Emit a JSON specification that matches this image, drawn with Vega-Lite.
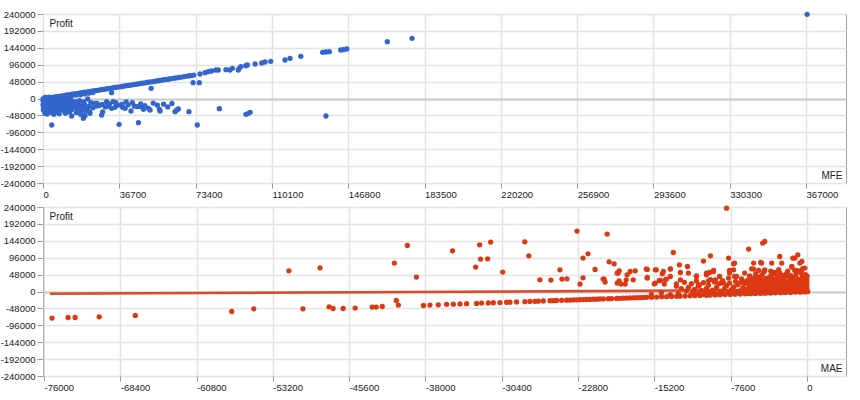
{
  "$schema": "https://vega.github.io/schema/vega-lite/v6.json",
  "background": "white",
  "padding": {"left": -1, "top": 8, "right": 14, "bottom": 0},
  "spacing": 24,
  "bounds": "flush",
  "config": {
    "view": {"stroke": "#a0a0a0", "strokeWidth": 1},
    "font": "Liberation Sans",
    "axis": {
      "labelFont": "Liberation Sans", "labelFontSize": 9.5, "labelColor": "#222222",
      "titleFont": "Liberation Sans", "titleFontSize": 10, "titleFontWeight": "normal", "titleColor": "#222222",
      "gridColor": "#e3e3e3", "gridWidth": 1.5, "tickColor": "#999999", "domain": false,
      "labelOverlap": false, "labelFlush": false
    }
  },
  "datasets": {
    "mfe": [
      {"MFE":0,"Profit":-1000},{"MFE":900,"Profit":-200},{"MFE":2000,"Profit":900},{"MFE":3100,"Profit":1800},{"MFE":4000,"Profit":2600},{"MFE":5000,"Profit":3700},{"MFE":6100,"Profit":4500},{"MFE":7000,"Profit":5600},{"MFE":8000,"Profit":6300},{"MFE":9000,"Profit":7500},{"MFE":10100,"Profit":8200},{"MFE":11000,"Profit":9300},{"MFE":12000,"Profit":10100},{"MFE":13100,"Profit":11000},{"MFE":14000,"Profit":12100},{"MFE":15000,"Profit":12900},{"MFE":16000,"Profit":13900},{"MFE":17100,"Profit":14700},{"MFE":18000,"Profit":15800},{"MFE":19000,"Profit":16600},{"MFE":20000,"Profit":17700},{"MFE":21100,"Profit":18400},{"MFE":22000,"Profit":19500},{"MFE":23000,"Profit":20300},{"MFE":24000,"Profit":21400},{"MFE":25100,"Profit":22100},{"MFE":26000,"Profit":23300},{"MFE":27000,"Profit":24000},{"MFE":28000,"Profit":25100},{"MFE":29100,"Profit":25900},{"MFE":30000,"Profit":26900},{"MFE":31000,"Profit":27900},{"MFE":32000,"Profit":28700},{"MFE":33100,"Profit":29600},{"MFE":34000,"Profit":30700},{"MFE":35000,"Profit":31500},{"MFE":36000,"Profit":32500},{"MFE":37100,"Profit":33300},{"MFE":38000,"Profit":34400},{"MFE":39000,"Profit":35200},{"MFE":40000,"Profit":36300},{"MFE":41100,"Profit":37000},{"MFE":42000,"Profit":38100},{"MFE":43000,"Profit":38900},{"MFE":44000,"Profit":40000},{"MFE":45100,"Profit":40800},{"MFE":46000,"Profit":41800},{"MFE":47000,"Profit":42700},{"MFE":48000,"Profit":43700},{"MFE":49100,"Profit":44500},{"MFE":50000,"Profit":45600},{"MFE":51000,"Profit":46400},{"MFE":52000,"Profit":47400},{"MFE":53100,"Profit":48200},{"MFE":54000,"Profit":49300},{"MFE":55000,"Profit":50100},{"MFE":56000,"Profit":51100},{"MFE":57200,"Profit":52000},{"MFE":58000,"Profit":53000},{"MFE":59000,"Profit":53800},{"MFE":60200,"Profit":55000},{"MFE":61000,"Profit":55700},{"MFE":62300,"Profit":56900},{"MFE":63500,"Profit":58000},{"MFE":64200,"Profit":58600},{"MFE":65400,"Profit":59700},{"MFE":66800,"Profit":61000},{"MFE":68000,"Profit":62300},{"MFE":69500,"Profit":63700},{"MFE":70400,"Profit":64600},{"MFE":71300,"Profit":65200},{"MFE":72500,"Profit":66600},
      {"MFE":75500,"Profit":69600},{"MFE":77900,"Profit":73300},{"MFE":79500,"Profit":76200},{"MFE":81100,"Profit":78100},{"MFE":83200,"Profit":80900},{"MFE":84300,"Profit":80900},{"MFE":88000,"Profit":81800},{"MFE":89900,"Profit":80900},{"MFE":91100,"Profit":85700},{"MFE":93900,"Profit":80900},{"MFE":94400,"Profit":85700},{"MFE":95100,"Profit":90400},{"MFE":97500,"Profit":93200},{"MFE":98300,"Profit":95100},{"MFE":102000,"Profit":98000},{"MFE":105200,"Profit":100800},{"MFE":106800,"Profit":103700},{"MFE":109500,"Profit":105600},{"MFE":116400,"Profit":109300},{"MFE":118800,"Profit":114100},{"MFE":124000,"Profit":119800},{"MFE":134500,"Profit":131200},{"MFE":136100,"Profit":132100},{"MFE":137700,"Profit":133000},{"MFE":143200,"Profit":137700},{"MFE":144500,"Profit":138600},{"MFE":146100,"Profit":140600},{"MFE":165600,"Profit":161400},{"MFE":177500,"Profit":171000},{"MFE":367500,"Profit":239000},
      {"MFE":4200,"Profit":-75300},{"MFE":13800,"Profit":-49700},{"MFE":18100,"Profit":-45000},{"MFE":19400,"Profit":-56300},{"MFE":20200,"Profit":-48800},{"MFE":21500,"Profit":-1400},{"MFE":22600,"Profit":-42000},{"MFE":25000,"Profit":-13700},{"MFE":25800,"Profit":-21300},{"MFE":28200,"Profit":-46900},{"MFE":28700,"Profit":-38300},{"MFE":30600,"Profit":-9000},{"MFE":31400,"Profit":-21300},{"MFE":33800,"Profit":-9000},{"MFE":34600,"Profit":-25000},{"MFE":36600,"Profit":-73300},{"MFE":38300,"Profit":-25000},{"MFE":42300,"Profit":-35500},{"MFE":45500,"Profit":-23300},{"MFE":45900,"Profit":-68700},{"MFE":46700,"Profit":-21300},{"MFE":47500,"Profit":-23300},{"MFE":48300,"Profit":-30700},{"MFE":50700,"Profit":-27800},{"MFE":51500,"Profit":-32700},{"MFE":52000,"Profit":29000},{"MFE":56000,"Profit":-30700},{"MFE":56300,"Profit":-35500},{"MFE":63500,"Profit":-37500},{"MFE":64300,"Profit":-32700},{"MFE":65100,"Profit":-29800},{"MFE":70200,"Profit":-37500},{"MFE":72200,"Profit":44900},{"MFE":75200,"Profit":44900},{"MFE":74200,"Profit":-75300},{"MFE":84800,"Profit":-28900},{"MFE":97600,"Profit":-45000},{"MFE":98800,"Profit":-42000},{"MFE":99600,"Profit":-39300},{"MFE":136100,"Profit":-49700},{"MFE":33000,"Profit":16500},
      {"MFE":0,"Profit":-18000},{"MFE":0,"Profit":-6000},{"MFE":200,"Profit":-33000},{"MFE":300,"Profit":-25000},{"MFE":400,"Profit":-12000},{"MFE":500,"Profit":-2000},{"MFE":600,"Profit":-30000},{"MFE":800,"Profit":-8000},{"MFE":900,"Profit":-36000},{"MFE":1000,"Profit":-42000},{"MFE":1000,"Profit":3000},{"MFE":1200,"Profit":-15000},{"MFE":1400,"Profit":-10000},{"MFE":1500,"Profit":-22000},{"MFE":1800,"Profit":-5000},{"MFE":2000,"Profit":-44000},{"MFE":2000,"Profit":1000},{"MFE":2200,"Profit":-12000},{"MFE":2500,"Profit":-28000},{"MFE":2600,"Profit":-16000},{"MFE":2800,"Profit":-39000},{"MFE":3000,"Profit":-18000},{"MFE":3000,"Profit":4000},{"MFE":3200,"Profit":-34000},{"MFE":3500,"Profit":-9000},{"MFE":3800,"Profit":-20000},{"MFE":4000,"Profit":-25000},{"MFE":4200,"Profit":-40000},{"MFE":4500,"Profit":-33000},{"MFE":4800,"Profit":-14000},{"MFE":5000,"Profit":-3000},{"MFE":5200,"Profit":-45000},{"MFE":5500,"Profit":-20000},{"MFE":5800,"Profit":-12000},{"MFE":6000,"Profit":-31000},{"MFE":6200,"Profit":-10000},{"MFE":6500,"Profit":-4000},{"MFE":6800,"Profit":-27000},{"MFE":7000,"Profit":-38000},{"MFE":7500,"Profit":-16000},{"MFE":7800,"Profit":-43000},{"MFE":8000,"Profit":-6000},{"MFE":8300,"Profit":-22000},{"MFE":8800,"Profit":-18000},{"MFE":9000,"Profit":-30000},{"MFE":9000,"Profit":-2000},{"MFE":9500,"Profit":-12000},{"MFE":10000,"Profit":-35000},{"MFE":10500,"Profit":-19000},{"MFE":10800,"Profit":-42000},{"MFE":11000,"Profit":-26000},{"MFE":11000,"Profit":-1000},{"MFE":11500,"Profit":-8000},{"MFE":12000,"Profit":-33000},{"MFE":12500,"Profit":-15000},{"MFE":12800,"Profit":-38000},{"MFE":13000,"Profit":-22000},{"MFE":13500,"Profit":-5000},{"MFE":14000,"Profit":-28000},{"MFE":14500,"Profit":-11000},{"MFE":15000,"Profit":-18000},{"MFE":15500,"Profit":-9000},{"MFE":16000,"Profit":-25000},{"MFE":16000,"Profit":-40000},{"MFE":16500,"Profit":-32000},{"MFE":17000,"Profit":-14000},{"MFE":17500,"Profit":-6000},{"MFE":18000,"Profit":-21000},{"MFE":18500,"Profit":-36000},{"MFE":19000,"Profit":-27000},{"MFE":19500,"Profit":-10000},{"MFE":20000,"Profit":-17000},{"MFE":20500,"Profit":-35000},{"MFE":21000,"Profit":-30000},{"MFE":22000,"Profit":-23000},{"MFE":22500,"Profit":-38000},{"MFE":23000,"Profit":-12000},{"MFE":24000,"Profit":-26000},{"MFE":26000,"Profit":-14000},{"MFE":27000,"Profit":-20000},{"MFE":28500,"Profit":-17000},{"MFE":30000,"Profit":-24000},{"MFE":32000,"Profit":-15000},{"MFE":33000,"Profit":-28000},{"MFE":35000,"Profit":-12000},{"MFE":36000,"Profit":-19000},{"MFE":38000,"Profit":-16000},{"MFE":39500,"Profit":-28000},{"MFE":40000,"Profit":-10000},{"MFE":41000,"Profit":-18000},{"MFE":43000,"Profit":-12000},{"MFE":44000,"Profit":-22000},{"MFE":47000,"Profit":-15000},{"MFE":49000,"Profit":-20000},{"MFE":53000,"Profit":-13000},{"MFE":55000,"Profit":-19000},{"MFE":58000,"Profit":-16000},{"MFE":60000,"Profit":-24000},{"MFE":62000,"Profit":-14000},
      {"MFE":2000,"Profit":-3000},{"MFE":4000,"Profit":-1000},{"MFE":6000,"Profit":1000},{"MFE":8000,"Profit":2000},{"MFE":10000,"Profit":4000},{"MFE":12000,"Profit":6000},{"MFE":14000,"Profit":8000},{"MFE":16000,"Profit":10000},{"MFE":18000,"Profit":11000},{"MFE":20000,"Profit":13000},{"MFE":22000,"Profit":15000},{"MFE":24000,"Profit":17000},{"MFE":500,"Profit":-9000},{"MFE":1500,"Profit":-4000},{"MFE":3000,"Profit":-7000},{"MFE":5000,"Profit":-9000},{"MFE":7000,"Profit":-5000},
      {"MFE":300,"Profit":-4000},{"MFE":700,"Profit":-14000},{"MFE":1100,"Profit":-20000},{"MFE":1300,"Profit":-27000},{"MFE":1700,"Profit":-32000},{"MFE":1900,"Profit":-17000},{"MFE":2300,"Profit":-7000},{"MFE":2700,"Profit":-23000},{"MFE":3300,"Profit":-13000},{"MFE":3600,"Profit":-29000},{"MFE":3900,"Profit":-4000},{"MFE":4300,"Profit":-17000},{"MFE":4600,"Profit":-8000},{"MFE":5100,"Profit":-24000},{"MFE":5400,"Profit":-35000},{"MFE":5700,"Profit":-6000},{"MFE":6300,"Profit":-19000},{"MFE":6600,"Profit":-13000},{"MFE":7200,"Profit":-24000},{"MFE":7600,"Profit":-10000},{"MFE":8200,"Profit":-29000},{"MFE":8600,"Profit":-14000},{"MFE":9200,"Profit":-24000},{"MFE":9800,"Profit":-7000},{"MFE":10200,"Profit":-15000},{"MFE":10600,"Profit":-28000},{"MFE":11300,"Profit":-20000},{"MFE":11800,"Profit":-13000},{"MFE":12300,"Profit":-25000},{"MFE":13200,"Profit":-17000},{"MFE":13800,"Profit":-31000},{"MFE":14800,"Profit":-23000},{"MFE":15800,"Profit":-15000},{"MFE":16800,"Profit":-20000}
    ],
    "mae": [
      {"MAE":-75200,"Profit":-75600},{"MAE":-73600,"Profit":-73800},{"MAE":-72900,"Profit":-73800},{"MAE":-70500,"Profit":-71900},{"MAE":-66900,"Profit":-68100},{"MAE":-57300,"Profit":-56800},{"MAE":-55100,"Profit":-49100},{"MAE":-51600,"Profit":58800},{"MAE":-50200,"Profit":-49100},{"MAE":-48500,"Profit":67300},{"MAE":-47600,"Profit":-43500},{"MAE":-47200,"Profit":-48300},{"MAE":-46200,"Profit":-48300},{"MAE":-45000,"Profit":-47200},{"MAE":-43300,"Profit":-44300},{"MAE":-42900,"Profit":-44300},{"MAE":-42300,"Profit":-42600},{"MAE":-41100,"Profit":80600},{"MAE":-40900,"Profit":-25600},{"MAE":-40700,"Profit":-38600},{"MAE":-39800,"Profit":130600},{"MAE":-38900,"Profit":40900},{"MAE":-38200,"Profit":-39800},
      {"MAE":-35300,"Profit":115600},{"MAE":-33000,"Profit":69300},{"MAE":-32600,"Profit":132600},{"MAE":-32500,"Profit":92000},{"MAE":-31800,"Profit":92900},{"MAE":-31500,"Profit":140300},{"MAE":-30300,"Profit":55100},{"MAE":-28100,"Profit":141100},{"MAE":-27700,"Profit":101400},{"MAE":-26600,"Profit":33200},{"MAE":-25500,"Profit":32400},{"MAE":-24600,"Profit":61600},{"MAE":-24400,"Profit":35200},{"MAE":-23900,"Profit":36100},{"MAE":-22900,"Profit":171500},{"MAE":-22600,"Profit":21000},{"MAE":-22300,"Profit":94900},{"MAE":-22300,"Profit":38900},{"MAE":-21800,"Profit":107100},{"MAE":-21100,"Profit":62500},{"MAE":-20300,"Profit":35200},{"MAE":-20100,"Profit":26700},{"MAE":-19900,"Profit":163000},{"MAE":-19700,"Profit":84300},{"MAE":-19200,"Profit":78700},{"MAE":-18900,"Profit":52300},{"MAE":-18700,"Profit":58800},{"MAE":-18700,"Profit":30400},{"MAE":-18100,"Profit":21000},{"MAE":-17900,"Profit":47400},{"MAE":-17600,"Profit":56800},{"MAE":-17300,"Profit":33200},{"MAE":-17100,"Profit":58800},{"MAE":-15900,"Profit":62500},{"MAE":-15900,"Profit":39800},{"MAE":-15200,"Profit":21900},{"MAE":-15000,"Profit":61600},{"MAE":-14700,"Profit":31200},{"MAE":-14400,"Profit":50300},{"MAE":-14200,"Profit":21000},{"MAE":-14000,"Profit":35200},{"MAE":-13600,"Profit":64500},{"MAE":-13300,"Profit":110800},{"MAE":-13000,"Profit":21900},{"MAE":-12700,"Profit":75800},{"MAE":-12600,"Profit":54000},{"MAE":-12600,"Profit":33200},{"MAE":-11900,"Profit":71000},{"MAE":-11800,"Profit":52300},{"MAE":-11000,"Profit":44600},{"MAE":-10700,"Profit":19000},{"MAE":-10300,"Profit":86300},{"MAE":-10000,"Profit":47400},{"MAE":-9700,"Profit":54000},{"MAE":-9600,"Profit":101400},{"MAE":-9300,"Profit":59600},{"MAE":-9100,"Profit":33200},{"MAE":-8600,"Profit":23900},{"MAE":-8000,"Profit":236800},{"MAE":-7800,"Profit":94900},{"MAE":-7700,"Profit":59600},{"MAE":-7300,"Profit":78700},{"MAE":-7200,"Profit":42600},{"MAE":-6500,"Profit":28400},{"MAE":-6200,"Profit":52300},{"MAE":-5800,"Profit":120400},{"MAE":-5500,"Profit":64500},{"MAE":-5300,"Profit":80600},{"MAE":-5100,"Profit":35200},{"MAE":-4600,"Profit":82400},{"MAE":-4400,"Profit":137400},{"MAE":-4200,"Profit":142000},{"MAE":-4200,"Profit":59600},{"MAE":-3500,"Profit":80600},{"MAE":-3200,"Profit":50300},{"MAE":-2700,"Profit":99400},{"MAE":-2500,"Profit":80600},{"MAE":-2000,"Profit":44600},{"MAE":-1500,"Profit":69300},{"MAE":-1200,"Profit":94900},{"MAE":-900,"Profit":104200},{"MAE":-500,"Profit":85200},{"MAE":-1000,"Profit":59600},{"MAE":-200,"Profit":66500},{"MAE":0,"Profit":42600},
      {"MAE":-20200,"Profit":35200},{"MAE":-18800,"Profit":52300},{"MAE":-18900,"Profit":23900},{"MAE":-18500,"Profit":21000},{"MAE":-18000,"Profit":33200},{"MAE":-16000,"Profit":63600},{"MAE":-15900,"Profit":38000},{"MAE":-15100,"Profit":61600},{"MAE":-15100,"Profit":23900},{"MAE":-14600,"Profit":31200},{"MAE":-14300,"Profit":56800},{"MAE":-14100,"Profit":33200},{"MAE":-13600,"Profit":63600},{"MAE":-13600,"Profit":42600},{"MAE":-11000,"Profit":42600},{"MAE":-10800,"Profit":19000},{"MAE":-10000,"Profit":52300},{"MAE":-9800,"Profit":30400},{"MAE":-9300,"Profit":56800},{"MAE":-9200,"Profit":31200},{"MAE":-8700,"Profit":42600},{"MAE":-8300,"Profit":23900},{"MAE":-7700,"Profit":52300},{"MAE":-7300,"Profit":61600},{"MAE":-7200,"Profit":80600},{"MAE":-7000,"Profit":42600},{"MAE":-6700,"Profit":23900},{"MAE":-5300,"Profit":63600},{"MAE":-5000,"Profit":42600},{"MAE":-4500,"Profit":80600},{"MAE":-4200,"Profit":61600},{"MAE":-3400,"Profit":52300},{"MAE":-2000,"Profit":52300},{"MAE":-1500,"Profit":71000},{"MAE":-1400,"Profit":94900},{"MAE":-700,"Profit":80600},{"MAE":-500,"Profit":61600},{"MAE":-400,"Profit":42600},
      {"MAE":-37550,"Profit":-38600},{"MAE":-36720,"Profit":-37800},{"MAE":-35890,"Profit":-36500},{"MAE":-35220,"Profit":-36000},{"MAE":-34560,"Profit":-35400},{"MAE":-33900,"Profit":-34500},{"MAE":-32900,"Profit":-33800},{"MAE":-32400,"Profit":-33000},{"MAE":-31740,"Profit":-32600},{"MAE":-31240,"Profit":-31900},{"MAE":-30580,"Profit":-31400},{"MAE":-29910,"Profit":-30500},{"MAE":-29580,"Profit":-30400},{"MAE":-28920,"Profit":-29600},{"MAE":-28090,"Profit":-28900},{"MAE":-27590,"Profit":-28300},{"MAE":-27090,"Profit":-27900},{"MAE":-26760,"Profit":-27400},{"MAE":-26260,"Profit":-27000},{"MAE":-25590,"Profit":-26300},{"MAE":-25260,"Profit":-26100},{"MAE":-24930,"Profit":-25600},{"MAE":-24430,"Profit":-25200},{"MAE":-23930,"Profit":-24600},{"MAE":-23600,"Profit":-24400},{"MAE":-23270,"Profit":-23900},{"MAE":-22940,"Profit":-23700},{"MAE":-22600,"Profit":-23200},{"MAE":-22270,"Profit":-23000},{"MAE":-21940,"Profit":-22600},{"MAE":-21610,"Profit":-22400},{"MAE":-21280,"Profit":-21900},{"MAE":-20940,"Profit":-21700},{"MAE":-20610,"Profit":-21200},{"MAE":-20280,"Profit":-21000},{"MAE":-19780,"Profit":-20500},{"MAE":-19450,"Profit":-20100},{"MAE":-18950,"Profit":-19700},{"MAE":-18620,"Profit":-19300},{"MAE":-18290,"Profit":-18900},{"MAE":-17960,"Profit":-18700},{"MAE":-17630,"Profit":-18200},{"MAE":-17290,"Profit":-18000},{"MAE":-16960,"Profit":-17500},{"MAE":-16630,"Profit":-17400},{"MAE":-16300,"Profit":-16900},{"MAE":-15960,"Profit":-16600},{"MAE":-15470,"Profit":-16100},{"MAE":-14970,"Profit":-15700},{"MAE":-14470,"Profit":-15000},{"MAE":-13970,"Profit":-14700},{"MAE":-13470,"Profit":-14100},{"MAE":-12970,"Profit":-13700},{"MAE":-12630,"Profit":-13200},{"MAE":-12130,"Profit":-12800},{"MAE":-11640,"Profit":-12200},{"MAE":-11140,"Profit":-11800},{"MAE":-10640,"Profit":-11200},{"MAE":-9970,"Profit":-10600},{"MAE":-9640,"Profit":-10200},{"MAE":-9140,"Profit":-9800},{"MAE":-8640,"Profit":-9200},{"MAE":-8140,"Profit":-8700},{"MAE":-7640,"Profit":-8200},{"MAE":-7140,"Profit":-7700},{"MAE":-6640,"Profit":-7200},{"MAE":-6140,"Profit":-6700},{"MAE":-5640,"Profit":-6200},{"MAE":-5140,"Profit":-5700},{"MAE":-4640,"Profit":-5200},{"MAE":-4140,"Profit":-4700},{"MAE":-3640,"Profit":-4200},{"MAE":-3140,"Profit":-3700},{"MAE":-2640,"Profit":-3200},{"MAE":-2140,"Profit":-2700},{"MAE":-1640,"Profit":-2200},{"MAE":-1140,"Profit":-1700},{"MAE":-640,"Profit":-1200},{"MAE":-140,"Profit":-700},
      {"MAE":-12000,"Profit":2000},{"MAE":-11800,"Profit":12000},{"MAE":-11500,"Profit":22000},{"MAE":-11200,"Profit":6000},{"MAE":-11000,"Profit":30000},{"MAE":-10800,"Profit":15000},{"MAE":-10500,"Profit":3000},{"MAE":-10300,"Profit":25000},{"MAE":-10000,"Profit":9000},{"MAE":-9800,"Profit":18000},{"MAE":-9600,"Profit":34000},{"MAE":-9400,"Profit":4000},{"MAE":-9200,"Profit":27000},{"MAE":-9000,"Profit":12000},{"MAE":-8800,"Profit":21000},{"MAE":-8600,"Profit":1000},{"MAE":-8400,"Profit":31000},{"MAE":-8200,"Profit":8000},{"MAE":-8000,"Profit":16000},{"MAE":-7800,"Profit":38000},{"MAE":-7700,"Profit":24000},{"MAE":-7500,"Profit":5000},{"MAE":-7300,"Profit":13000},{"MAE":-7100,"Profit":29000},{"MAE":-6900,"Profit":19000},{"MAE":-6700,"Profit":2000},{"MAE":-6500,"Profit":36000},{"MAE":-6400,"Profit":10000},{"MAE":-6200,"Profit":22000},{"MAE":-6000,"Profit":30000},{"MAE":-6100,"Profit":6000},{"MAE":-8500,"Profit":-2000},{"MAE":-9900,"Profit":-1000},{"MAE":-11300,"Profit":-3000},{"MAE":-7000,"Profit":-2000},{"MAE":-12500,"Profit":8000},{"MAE":-13000,"Profit":15000},{"MAE":-12200,"Profit":26000},
      {"MAE":-11500,"Profit":-8000},{"MAE":-10800,"Profit":-6000},{"MAE":-10200,"Profit":-9000},{"MAE":-9500,"Profit":-4000},{"MAE":-9000,"Profit":-7000},{"MAE":-8300,"Profit":-5000},{"MAE":-7800,"Profit":-3000},{"MAE":-7200,"Profit":-6000},{"MAE":-6600,"Profit":-4000},{"MAE":-6300,"Profit":-1000},{"MAE":-5900,"Profit":-5000},{"MAE":-5500,"Profit":-4500},{"MAE":-4800,"Profit":-2500},{"MAE":-4400,"Profit":-4000},{"MAE":-4000,"Profit":-1500},{"MAE":-3600,"Profit":-3500},{"MAE":-12800,"Profit":-6000},{"MAE":-13600,"Profit":-9000},{"MAE":-14500,"Profit":-4000},{"MAE":-15500,"Profit":-8000},{"MAE":-10000,"Profit":1000},{"MAE":-9300,"Profit":0},
      {"MAE":-5800,"Profit":-3000},{"MAE":-5800,"Profit":5000},{"MAE":-5750,"Profit":14000},{"MAE":-5850,"Profit":24000},{"MAE":-5800,"Profit":33000},{"MAE":-5700,"Profit":44000},
      {"MAE":-5400,"Profit":1000},{"MAE":-5450,"Profit":9000},{"MAE":-5350,"Profit":18000},{"MAE":-5400,"Profit":27000},{"MAE":-5400,"Profit":38000},{"MAE":-5300,"Profit":-2000},
      {"MAE":-5000,"Profit":-4000},{"MAE":-5050,"Profit":3000},{"MAE":-4950,"Profit":11000},{"MAE":-5000,"Profit":20000},{"MAE":-5000,"Profit":30000},{"MAE":-4900,"Profit":41000},{"MAE":-5100,"Profit":50000},
      {"MAE":-4600,"Profit":-1000},{"MAE":-4650,"Profit":6000},{"MAE":-4550,"Profit":15000},{"MAE":-4600,"Profit":24000},{"MAE":-4600,"Profit":34000},{"MAE":-4500,"Profit":46000},
      {"MAE":-4200,"Profit":-3000},{"MAE":-4250,"Profit":2000},{"MAE":-4150,"Profit":10000},{"MAE":-4200,"Profit":19000},{"MAE":-4200,"Profit":28000},{"MAE":-4100,"Profit":37000},{"MAE":-4300,"Profit":55000},
      {"MAE":-3800,"Profit":0},{"MAE":-3850,"Profit":7000},{"MAE":-3750,"Profit":14000},{"MAE":-3800,"Profit":22000},{"MAE":-3800,"Profit":31000},{"MAE":-3700,"Profit":42000},{"MAE":-3900,"Profit":-3000},
      {"MAE":-3400,"Profit":-2000},{"MAE":-3450,"Profit":4000},{"MAE":-3350,"Profit":11000},{"MAE":-3400,"Profit":18000},{"MAE":-3400,"Profit":26000},{"MAE":-3300,"Profit":35000},{"MAE":-3500,"Profit":48000},
      {"MAE":-3000,"Profit":1000},{"MAE":-3050,"Profit":8000},{"MAE":-2950,"Profit":15000},{"MAE":-3000,"Profit":23000},{"MAE":-3000,"Profit":32000},{"MAE":-2900,"Profit":40000},{"MAE":-3100,"Profit":-2000},
      {"MAE":-2600,"Profit":-1000},{"MAE":-2650,"Profit":5000},{"MAE":-2550,"Profit":12000},{"MAE":-2600,"Profit":19000},{"MAE":-2600,"Profit":27000},{"MAE":-2500,"Profit":36000},{"MAE":-2700,"Profit":52000},
      {"MAE":-2200,"Profit":0},{"MAE":-2250,"Profit":6000},{"MAE":-2150,"Profit":13000},{"MAE":-2200,"Profit":21000},{"MAE":-2200,"Profit":30000},{"MAE":-2100,"Profit":43000},{"MAE":-2300,"Profit":-2000},
      {"MAE":-1800,"Profit":-1000},{"MAE":-1850,"Profit":3000},{"MAE":-1750,"Profit":9000},{"MAE":-1800,"Profit":16000},{"MAE":-1800,"Profit":24000},{"MAE":-1700,"Profit":33000},{"MAE":-1900,"Profit":58000},
      {"MAE":-1400,"Profit":1000},{"MAE":-1450,"Profit":7000},{"MAE":-1350,"Profit":14000},{"MAE":-1400,"Profit":22000},{"MAE":-1400,"Profit":31000},{"MAE":-1300,"Profit":39000},{"MAE":-1500,"Profit":-1500},
      {"MAE":-1000,"Profit":-500},{"MAE":-1050,"Profit":4000},{"MAE":-950,"Profit":10000},{"MAE":-1000,"Profit":18000},{"MAE":-1000,"Profit":26000},{"MAE":-900,"Profit":35000},{"MAE":-1100,"Profit":47000},
      {"MAE":-600,"Profit":0},{"MAE":-650,"Profit":5000},{"MAE":-550,"Profit":12000},{"MAE":-600,"Profit":20000},{"MAE":-600,"Profit":29000},{"MAE":-500,"Profit":38000},{"MAE":-700,"Profit":-1000},{"MAE":-550,"Profit":52000},
      {"MAE":-200,"Profit":1000},{"MAE":-250,"Profit":6000},{"MAE":-150,"Profit":13000},{"MAE":-200,"Profit":21000},{"MAE":-200,"Profit":30000},{"MAE":-100,"Profit":40000},{"MAE":-300,"Profit":-500},{"MAE":-150,"Profit":48000},
      {"MAE":0,"Profit":500},{"MAE":0,"Profit":4000},{"MAE":0,"Profit":9000},{"MAE":0,"Profit":16000},{"MAE":0,"Profit":25000},{"MAE":0,"Profit":33000},{"MAE":100,"Profit":-300},{"MAE":0,"Profit":44000},
      {"MAE":-3600,"Profit":58000},{"MAE":-2800,"Profit":62000},{"MAE":-2000,"Profit":50000},{"MAE":-1200,"Profit":60000},{"MAE":-400,"Profit":65000},{"MAE":-4800,"Profit":60000},{"MAE":-3200,"Profit":54000},{"MAE":-800,"Profit":57000},{"MAE":-1600,"Profit":45000},{"MAE":-2400,"Profit":46000}
    ],
    "trend": [
      {"MAE": -75400, "Profit": -6500},
      {"MAE": 0, "Profit": 4700}
    ]
  },
  "vconcat": [
    {
      "width": 803,
      "height": 169,
      "data": {"name": "mfe"},
      "mark": {"type": "circle", "size": 28, "opacity": 1, "color": "#3366cc"},
      "encoding": {
        "x": {
          "field": "MFE", "type": "quantitative",
          "scale": {"domain": [0, 386200], "nice": false, "zero": false},
          "axis": {
            "values": [0, 36700, 73400, 110100, 146800, 183500, 220200, 256900, 293600, 330300, 367000],
            "labelExpr": "'' + datum.value",
            "labelAlign": "left", "labelBaseline": "top", "labelPadding": 1, "tickSize": 5,
            "title": "MFE", "titleX": 799, "titleY": -8, "titleAlign": "right", "titleBaseline": "middle", "titleAngle": 0
          }
        },
        "y": {
          "field": "Profit", "type": "quantitative",
          "scale": {"domain": [-240000, 240000], "nice": false},
          "axis": {
            "values": [-240000, -192000, -144000, -96000, -48000, 0, 48000, 96000, 144000, 192000, 240000],
            "labelExpr": "'' + datum.value",
            "labelAlign": "right", "labelBaseline": "middle", "labelPadding": 2, "tickSize": 6,
            "gridColor": {"condition": {"test": "datum.value === 0", "value": "#c8c8c8"}, "value": "#e3e3e3"},
            "gridWidth": {"condition": {"test": "datum.value === 0", "value": 2}, "value": 1.5},
            "title": "Profit", "titleX": 6, "titleY": 9, "titleAlign": "left", "titleBaseline": "middle", "titleAngle": 0
          }
        }
      }
    },
    {
      "width": 803,
      "height": 169,
      "encoding": {
        "x": {
          "field": "MAE", "type": "quantitative",
          "scale": {"domain": [-76100, 3900], "nice": false, "zero": false},
          "axis": {
            "values": [-76000, -68400, -60800, -53200, -45600, -38000, -30400, -22800, -15200, -7600, 0],
            "labelExpr": "'' + datum.value",
            "labelAlign": "left", "labelBaseline": "top", "labelPadding": 1, "tickSize": 5,
            "title": "MAE", "titleX": 799, "titleY": -8, "titleAlign": "right", "titleBaseline": "middle", "titleAngle": 0
          }
        },
        "y": {
          "field": "Profit", "type": "quantitative",
          "scale": {"domain": [-240000, 240000], "nice": false},
          "axis": {
            "values": [-240000, -192000, -144000, -96000, -48000, 0, 48000, 96000, 144000, 192000, 240000],
            "labelExpr": "'' + datum.value",
            "labelAlign": "right", "labelBaseline": "middle", "labelPadding": 2, "tickSize": 6,
            "gridColor": {"condition": {"test": "datum.value === 0", "value": "#c8c8c8"}, "value": "#e3e3e3"},
            "gridWidth": {"condition": {"test": "datum.value === 0", "value": 2}, "value": 1.5},
            "title": "Profit", "titleX": 6, "titleY": 9, "titleAlign": "left", "titleBaseline": "middle", "titleAngle": 0
          }
        }
      },
      "layer": [
        {
          "data": {"name": "trend"},
          "mark": {"type": "line", "color": "#dc3912", "strokeWidth": 2.5, "opacity": 0.9}
        },
        {
          "data": {"name": "mae"},
          "mark": {"type": "circle", "size": 28, "opacity": 1, "color": "#dc3912"}
        }
      ]
    }
  ]
}
